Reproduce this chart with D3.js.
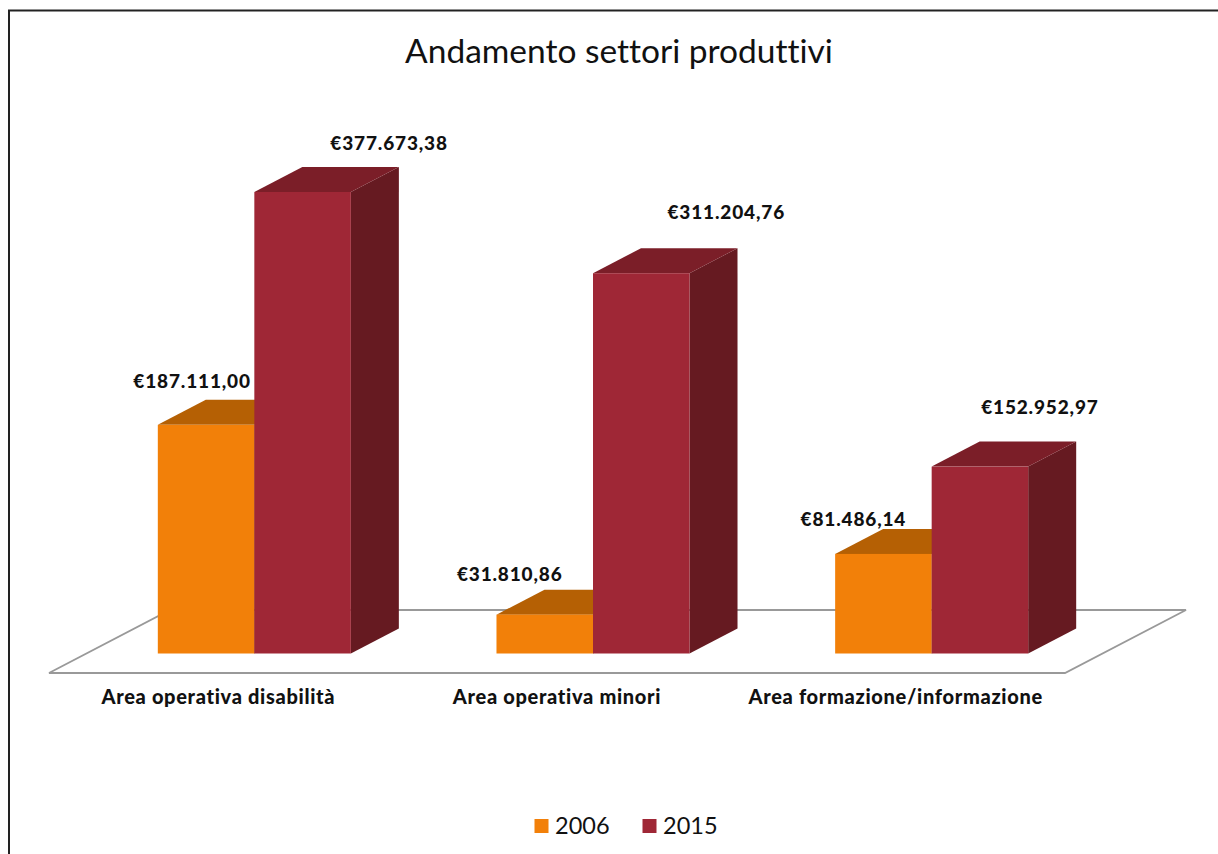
<!DOCTYPE html>
<html>
<head>
<meta charset="utf-8">
<script src="https://cdn.jsdelivr.net/npm/d3@7"></script>
<style>
  html, body { margin: 0; padding: 0; background: #fff; overflow: hidden; }
  text { font-family: Lato, "Open Sans", sans-serif; fill: #111; font-variant-ligatures: none; }
</style>
</head>
<body>
<div id="chart"></div>
<script>
const title = "Andamento settori produttivi";
const categories = ["Area operativa disabilità", "Area operativa minori", "Area formazione/informazione"];
const years = ["2006", "2015"];
const values2006 = [187111.00, 31810.86, 81486.14];
const values2015 = [377673.38, 311204.76, 152952.97];

const W = 1218, H = 854;
const depthX = 48, depthY = 25;   // oblique offset of the 3d boxes
const floorTop = 610, floorBottom = 673, floorLeft = 49, floorRight = 1065, floorSkew = 121;
const baseY = 653.5;

// data labels were placed by hand in the original: [dx from bar centre, dy above bar top]
const labelNudge = {
  "2006": [[-14, 37], [-35, 34], [-30, 28]],
  "2015": [[86.5, 42], [85, 54], [60, 53]]
};

const colors = {
  "2006": {front: "#f28009", top: "#b56004", side: "#8f4c03"},
  "2015": {front: "#9f2736", top: "#7b1e28", side: "#661a21"}
};
const fmt = v => "€" + v.toLocaleString("it-IT", {minimumFractionDigits: 2, maximumFractionDigits: 2, useGrouping: "always"});

const series = years.map((year, s) => ({
  year,
  values: (s === 0 ? values2006 : values2015).map((v, i) => ({cat: categories[i], v, i}))
}));

// scales
const xAxisScale = d3.scaleBand().domain(categories).range([floorLeft, floorRight]);
const x0 = d3.scaleBand().domain(categories)
    .range([floorLeft + 36, floorRight + 36])
    .paddingInner(0.43).paddingOuter(0.215);
const x1 = d3.scaleBand().domain(years).range([0, x0.bandwidth()]);
const y = d3.scaleLinear().domain([0, 377673.38]).range([baseY, 192]);

const svg = d3.select("#chart").append("svg")
    .attr("width", W).attr("height", H)
    .attr("viewBox", `0 0 ${W} ${H}`);

svg.append("rect").attr("width", W).attr("height", H).attr("fill", "#fff");

// outer frame, right and bottom edges are cut off by the picture
svg.append("path")
    .attr("d", `M9,${H} V10.5 H${W}`)
    .attr("fill", "none").attr("stroke", "#222").attr("stroke-width", 2);

svg.append("text")
    .attr("x", 619).attr("y", 63)
    .attr("text-anchor", "middle")
    .attr("font-size", 33.5)
    .text(title);

// floor
svg.append("path")
    .attr("d", `M${floorLeft},${floorBottom} H${floorRight} L${floorRight + floorSkew},${floorTop} H${floorLeft + floorSkew} Z`)
    .attr("fill", "#fff").attr("stroke", "#999").attr("stroke-width", 1.8);

// bars: left series first so the right one covers its side face
const groups = svg.selectAll("g.series").data(series).join("g").attr("class", "series");
const bars = groups.selectAll("g.bar")
    .data(d => d.values.map(p => ({...p, year: d.year})))
    .join("g").attr("class", "bar")
    .attr("transform", d => `translate(${x0(d.cat) + x1(d.year)},0)`);

bars.append("path") // side
    .attr("d", d => {
      const w = x1.bandwidth();
      return `M${w},${y(d.v)} l${depthX},${-depthY} V${baseY - depthY} L${w},${baseY} Z`;
    })
    .attr("fill", d => colors[d.year].side);

bars.append("path") // top
    .attr("d", d => {
      const w = x1.bandwidth();
      return `M0,${y(d.v)} l${depthX},${-depthY} h${w} l${-depthX},${depthY} Z`;
    })
    .attr("fill", d => colors[d.year].top);

bars.append("rect") // front
    .attr("width", x1.bandwidth())
    .attr("y", d => y(d.v))
    .attr("height", d => baseY - y(d.v))
    .attr("fill", d => colors[d.year].front);

// data labels
svg.selectAll("text.value")
    .data(series.flatMap(d => d.values.map(p => ({...p, year: d.year}))))
    .join("text").attr("class", "value")
    .attr("x", d => x0(d.cat) + x1(d.year) + x1.bandwidth() / 2 + labelNudge[d.year][d.i][0])
    .attr("y", d => y(d.v) - labelNudge[d.year][d.i][1])
    .attr("text-anchor", "middle")
    .attr("font-size", 19).attr("font-weight", 900).attr("letter-spacing", 0.85)
    .text(d => fmt(d.v));

// category labels
const xAxis = svg.append("g")
    .attr("transform", `translate(0,${floorBottom})`)
    .call(d3.axisBottom(xAxisScale).tickSize(0).tickPadding(17));
xAxis.select(".domain").remove();
xAxis.selectAll("text")
    .attr("font-size", 20).attr("font-weight", 900).attr("letter-spacing", 0.68)
    .style("font-family", "Lato, sans-serif").style("fill", "#111");

// legend
const legendX = d3.scalePoint().domain(years).range([534.5, 642.5]);
const legend = svg.selectAll("g.legend").data(years).join("g").attr("class", "legend")
    .attr("transform", d => `translate(${legendX(d)},819)`);
legend.append("rect").attr("width", 14).attr("height", 14).attr("fill", d => colors[d].front);
legend.append("text").attr("x", 20.5).attr("y", 14.5).attr("font-size", 23.5).text(d => d);
</script>
</body>
</html>
